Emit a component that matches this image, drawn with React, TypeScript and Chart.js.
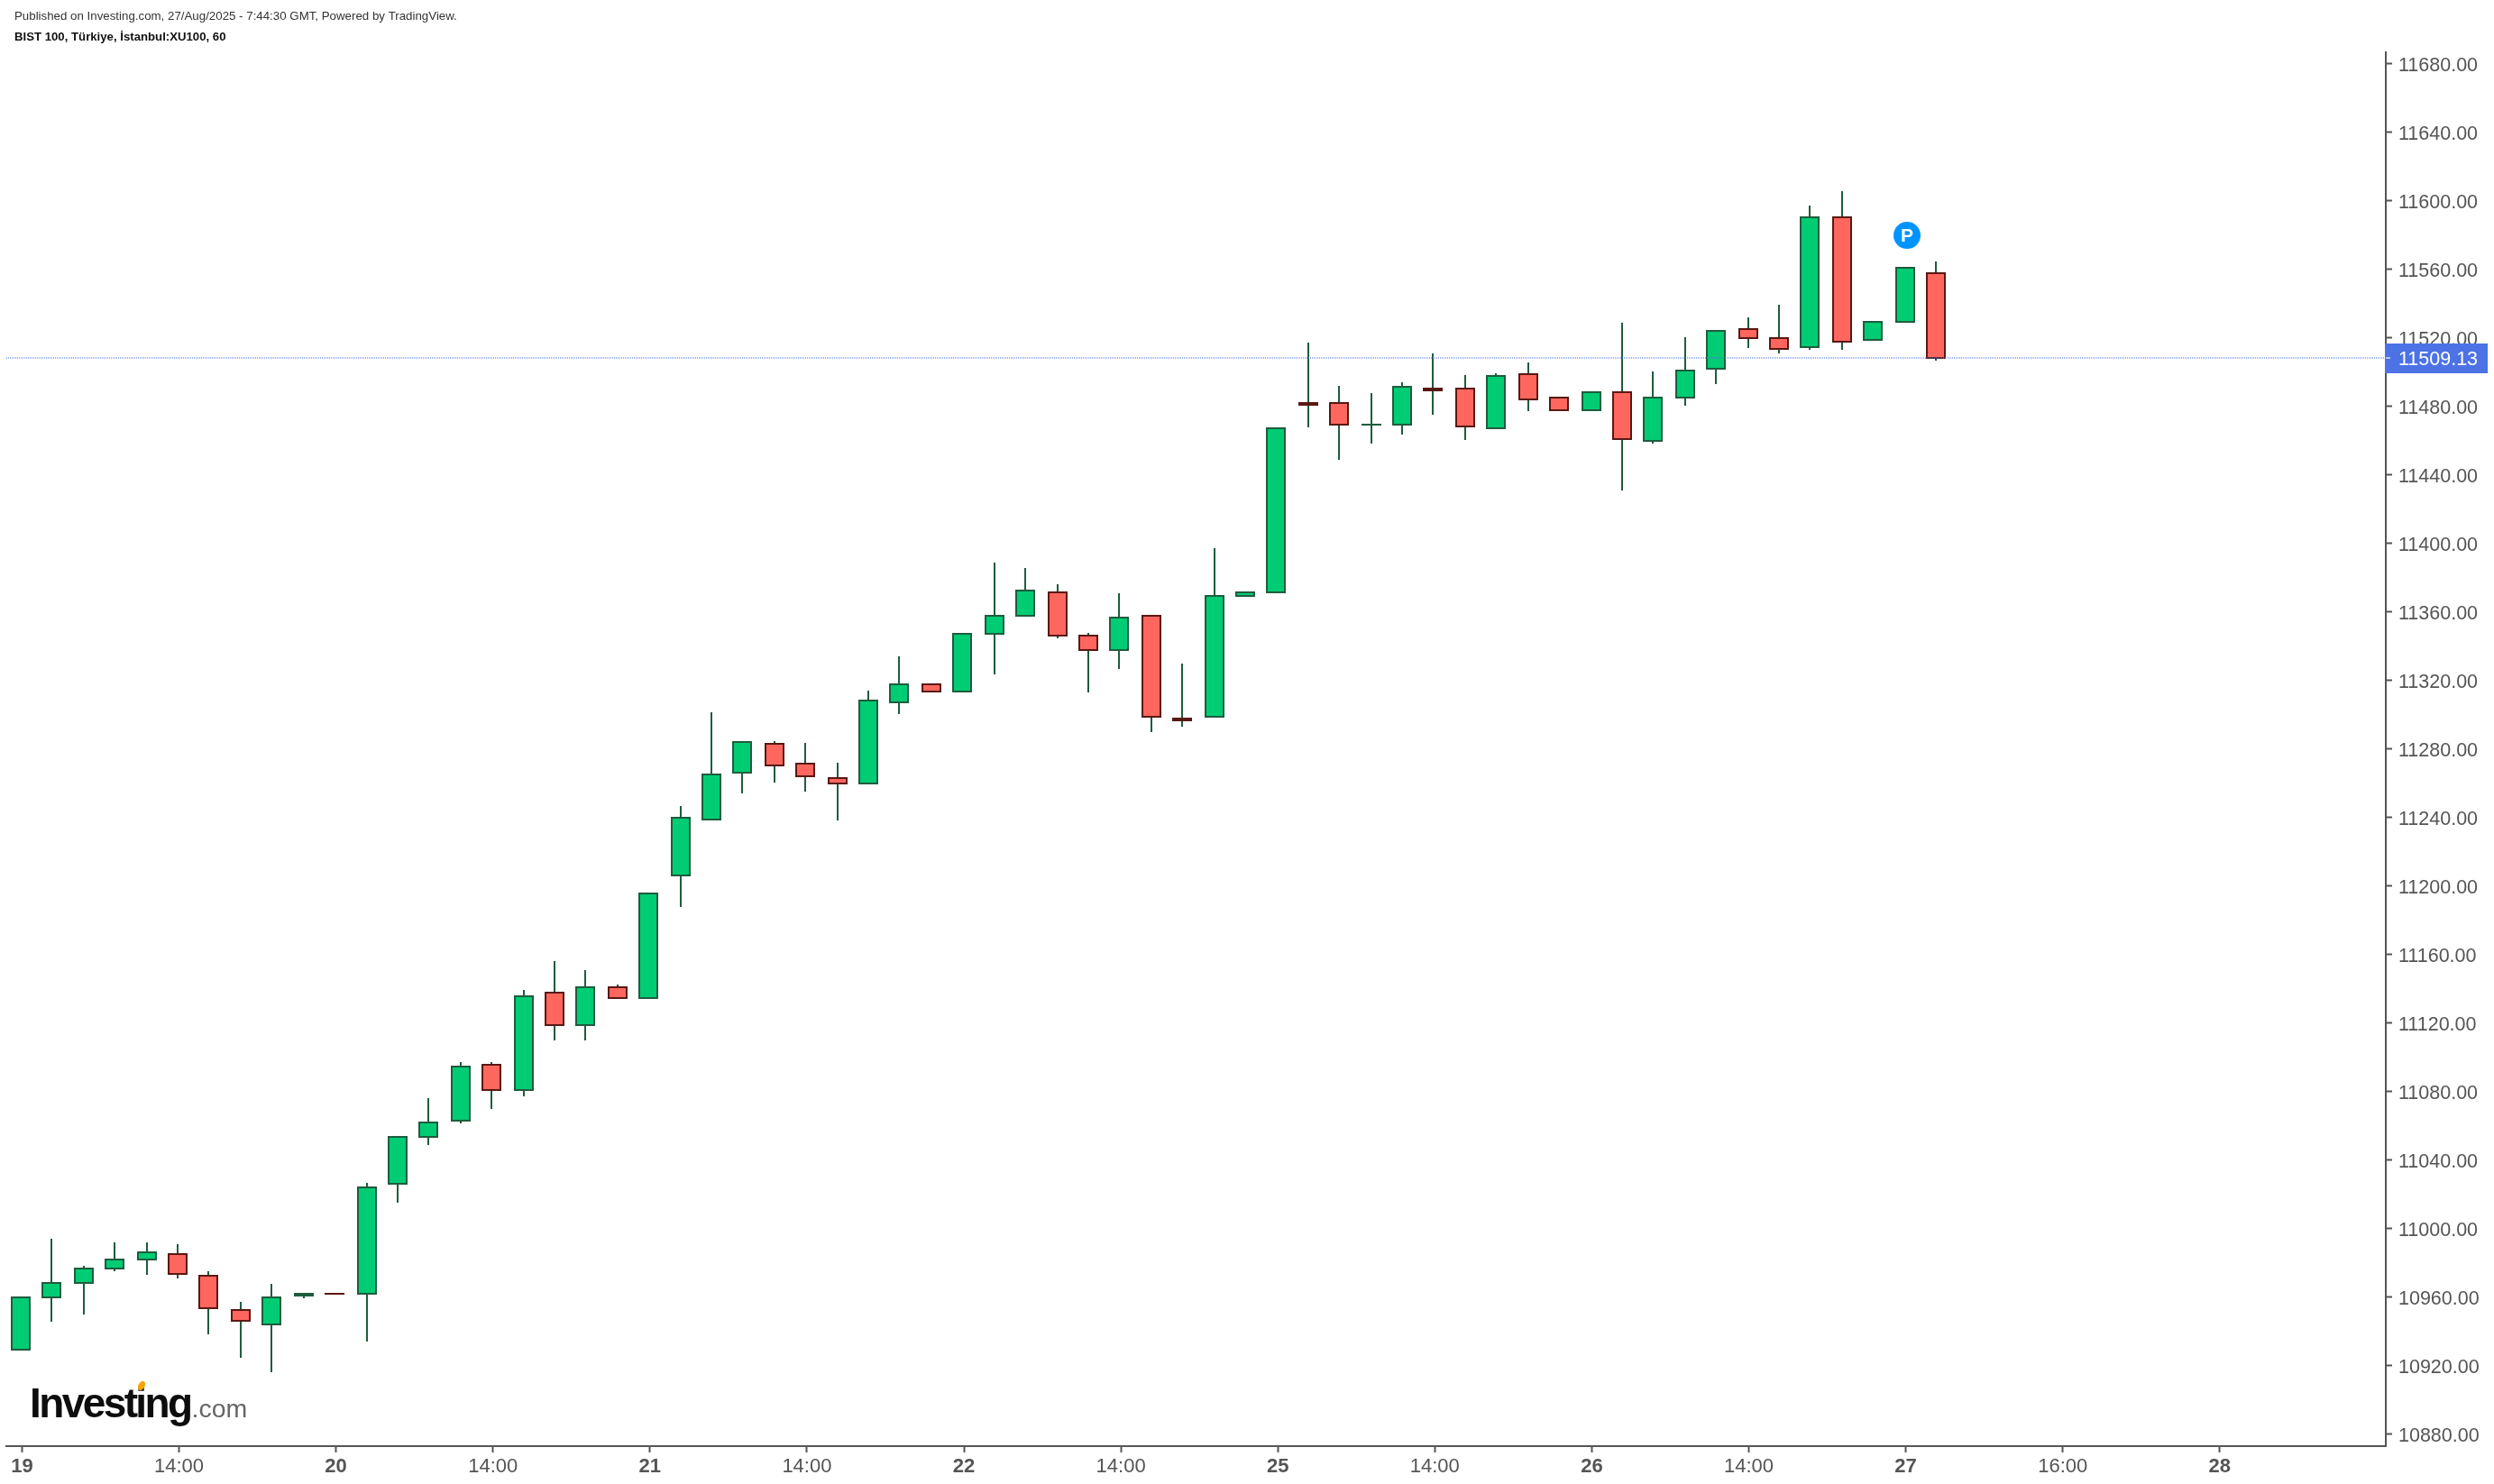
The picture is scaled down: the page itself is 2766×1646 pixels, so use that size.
import React, { useEffect, useRef } from "react";
import { Chart, registerables } from "chart.js";

Chart.register(...registerables);

const FONT = '"Liberation Sans", Arial, sans-serif';

const opens = [
  10928.8, 10959.3, 10967.7, 10976.2, 10981.4, 10985.6, 10973.0, 10953.0, 10943.5, 10960.4,
  10962.5, 10961.4, 11025.6, 11053.0, 11062.5, 11096.2, 11080.4, 11138.3, 11118.3, 11141.4,
  11134.1, 11205.6, 11238.3, 11265.6, 11283.5, 11272.0, 11263.5, 11259.3, 11306.7, 11318.3,
  11313.0, 11346.7, 11357.2, 11372.0, 11346.7, 11337.2, 11358.3, 11298.3, 11298.3, 11368.8,
  11370.9, 11482.5, 11482.5, 11468.8, 11468.8, 11490.9, 11490.9, 11466.7, 11499.3, 11485.6,
  11477.2, 11488.8, 11459.3, 11484.6, 11501.4, 11525.6, 11520.4, 11514.1, 11590.9, 11518.3,
  11528.8, 11558.3,
];
const closes = [
  10960.4, 10968.8, 10977.2, 10982.5, 10986.7, 10973.0, 10953.0, 10945.6, 10960.4, 10962.5,
  10961.4, 11024.6, 11054.1, 11062.5, 11095.1, 11080.4, 11136.2, 11118.3, 11141.4, 11134.1,
  11196.2, 11240.4, 11265.6, 11284.6, 11269.8, 11263.5, 11259.3, 11308.8, 11318.3, 11313.0,
  11347.7, 11358.3, 11373.0, 11345.6, 11337.2, 11357.2, 11298.3, 11296.2, 11369.8, 11372.0,
  11467.7, 11480.4, 11468.8, 11469.8, 11492.0, 11488.8, 11467.7, 11498.3, 11483.5, 11477.2,
  11488.8, 11460.4, 11485.6, 11501.4, 11524.6, 11519.3, 11513.0, 11590.9, 11517.2, 11529.8,
  11561.4, 11507.7,
];
const highs = [
  10960.4, 10994.1, 10978.3, 10992.0, 10992.0, 10990.9, 10975.1, 10957.2, 10967.7, 10962.5,
  10962.5, 11026.7, 11054.1, 11076.2, 11097.2, 11097.2, 11139.3, 11156.2, 11150.9, 11142.5,
  11196.2, 11246.7, 11301.4, 11284.6, 11284.6, 11283.5, 11272.0, 11314.1, 11334.1, 11318.3,
  11347.7, 11388.8, 11385.6, 11376.2, 11347.7, 11370.9, 11358.3, 11329.8, 11397.2, 11372.0,
  11467.7, 11517.2, 11492.0, 11487.7, 11494.1, 11510.9, 11498.3, 11499.3, 11505.6, 11485.6,
  11488.8, 11528.8, 11500.4, 11520.4, 11524.6, 11532.0, 11539.3, 11597.2, 11605.6, 11529.8,
  11561.4, 11564.6,
];
const lows = [
  10928.8, 10945.6, 10949.8, 10975.1, 10973.0, 10970.9, 10938.3, 10924.6, 10916.2, 10959.3,
  10961.4, 10934.1, 11015.1, 11048.8, 11061.4, 11069.8, 11077.2, 11109.8, 11109.8, 11134.1,
  11134.1, 11187.7, 11238.3, 11254.1, 11260.4, 11255.1, 11238.3, 11259.3, 11300.4, 11313.0,
  11313.0, 11323.5, 11357.2, 11344.6, 11313.0, 11326.7, 11289.8, 11293.0, 11298.3, 11368.8,
  11370.9, 11467.7, 11448.8, 11458.3, 11463.5, 11475.1, 11460.4, 11466.7, 11477.2, 11477.2,
  11477.2, 11430.9, 11458.3, 11480.4, 11493.0, 11514.1, 11510.9, 11513.0, 11513.0, 11518.3,
  11528.8, 11506.7,
];

const timeTickIndexes = [0, 5, 10, 15, 20, 25, 30, 35, 40, 45, 50, 55, 60, 65, 70];
const timeTickLabels = ["19", "14:00", "20", "14:00", "21", "14:00", "22", "14:00", "25", "14:00", "26", "14:00", "27", "16:00", "28"];
const priceTicks = [
  10880, 10920, 10960, 11000, 11040, 11080, 11120, 11160, 11200, 11240, 11280, 11320,
  11360, 11400, 11440, 11480, 11520, 11560, 11600, 11640, 11680,
];
const lastPrice = 11509.13;
const pineMarkerIndex = 60.08;
const pineMarkerPrice = 11579.8;
const publishedLine = "Published on Investing.com, 27/Aug/2025 - 7:44:30 GMT, Powered by TradingView.";
const symbolLine = "BIST 100, Türkiye, İstanbul:XU100, 60";

const X_MIN = -0.46;
const X_MAX = 75.33;
const Y_MIN = 10873;
const Y_MAX = 11686.68;
const AXIS = "#555555";
const UP = "#00cc74";
const DOWN = "#ff675e";
const UP_EDGE = "#1f5c3e";
const DOWN_EDGE = "#5a1814";
const TICK_NUDGE = 0.04;

const snapBars = {
  id: "snapBars",
  afterDatasetsUpdate(chart: any) {
    [0, 1].forEach((d) => {
      chart.getDatasetMeta(d).data.forEach((el: any) => {
        el.x = 2 * Math.round((el.x - 1) / 2) + 1;
        el.y = Math.round(el.y);
        el.base = Math.round(el.base);
      });
    });
    chart.getDatasetMeta(2).data.forEach((el: any) => {
      el.y = Math.round(el.y) + 2;
    });
  },
  beforeDraw(chart: any) {
    const nudge = (scale: any, dy: number) => {
      scale.getLabelItems().forEach((item: any) => {
        if (!item.__nudged) {
          item.__nudged = true;
          item.options.translation = [item.options.translation[0], item.options.translation[1] + dy];
        }
      });
    };
    nudge(chart.scales.y, 2.5);
  },
};

const overlay = {
  id: "overlay",
  afterDraw(chart: any) {
    const { ctx, scales } = chart;
    const y = scales.y.getPixelForValue(lastPrice);
    const mx = scales.x.getPixelForValue(pineMarkerIndex);
    const my = scales.y.getPixelForValue(pineMarkerPrice);
    ctx.save();
    ctx.textBaseline = "middle";

    ctx.textAlign = "left";
    ctx.fillStyle = "#333333";
    ctx.font = `13.3px ${FONT}`;
    ctx.fillText(publishedLine, 16, 18);
    ctx.fillStyle = "#111111";
    ctx.font = `bold 13.2px ${FONT}`;
    ctx.fillText(symbolLine, 16, 41);

    // last price tag
    ctx.fillStyle = "#4c72e6";
    ctx.fillRect(2645, Math.round(y) - 14, 114, 33);
    ctx.fillStyle = "#ffffff";
    ctx.font = `21.5px ${FONT}`;
    ctx.fillText(lastPrice.toFixed(2), 2660, Math.round(y) + 4);
    ctx.strokeStyle = "#b9c8f3";
    ctx.lineWidth = 2;
    ctx.beginPath();
    ctx.moveTo(2646, Math.round(y) + 2);
    ctx.lineTo(2651, Math.round(y) + 2);
    ctx.stroke();

    // pine marker letter
    ctx.fillStyle = "#ffffff";
    ctx.textAlign = "center";
    ctx.font = `bold 21px ${FONT}`;
    ctx.fillText("P", mx, my + 1);

    // logo
    ctx.textAlign = "left";
    ctx.textBaseline = "alphabetic";
    ctx.fillStyle = "#0d0d0d";
    ctx.font = `bold 46px ${FONT}`;
    (ctx as any).letterSpacing = "-2.6px";
    ctx.fillText("Investing", 33, 1572);
    const w = ctx.measureText("Investing").width;
    (ctx as any).letterSpacing = "0px";
    ctx.fillStyle = "#666666";
    ctx.font = `28.5px ${FONT}`;
    ctx.fillText(".com", 33 + w + 1, 1572);
    ctx.fillStyle = "#f5a300";
    ctx.beginPath();
    ctx.ellipse(157, 1537, 3.5, 5.5, 0.5, 0, Math.PI * 2);
    ctx.fill();
    ctx.restore();
  },
};

export default function App() {
  const ref = useRef<HTMLCanvasElement | null>(null);

  useEffect(() => {
    document.body.style.margin = "0";
    const idx = opens.map((_, i) => i);
    const isUp = (i: number) => closes[i] >= opens[i];
    const chart = new Chart(ref.current as HTMLCanvasElement, {
      type: "bar",
      data: {
        datasets: [
          {
            label: "Wick",
            order: 3,
            grouped: false,
            barThickness: 2,
            inflateAmount: 0,
            backgroundColor: UP_EDGE,
            data: idx.map((i) => ({ x: i, y: [lows[i], highs[i]] })),
          },
          {
            label: "Body",
            order: 2,
            grouped: false,
            barThickness: 22,
            inflateAmount: 0,
            borderWidth: 2,
            borderSkipped: false,
            backgroundColor: idx.map((i) => (isUp(i) ? UP : DOWN)),
            borderColor: idx.map((i) => (isUp(i) ? UP_EDGE : DOWN_EDGE)),
            data: idx.map((i) => ({ x: i, y: [opens[i], closes[i]] })),
          },
          {
            type: "line",
            label: "Last price",
            order: 1,
            borderColor: "rgba(76,114,230,0.55)",
            borderWidth: 2,
            borderDash: [1, 1],
            pointRadius: 0,
            data: [
              { x: X_MIN, y: lastPrice },
              { x: X_MAX, y: lastPrice },
            ],
          },
          {
            type: "scatter",
            label: "Pine",
            order: 0,
            pointRadius: 15,
            pointBorderWidth: 0,
            backgroundColor: "#0094ff",
            data: [{ x: pineMarkerIndex, y: pineMarkerPrice }],
          },
        ],
      } as any,
      plugins: [snapBars, overlay],
      options: {
        animation: false,
        responsive: false,
        devicePixelRatio: 1,
        layout: { autoPadding: false, padding: { left: 7, top: 58, right: 0, bottom: 0 } },
        plugins: { legend: { display: false }, tooltip: { enabled: false }, title: { display: false } },
        scales: {
          x: {
            type: "linear",
            position: "bottom",
            offset: false,
            min: X_MIN,
            max: X_MAX,
            afterBuildTicks: (s: any) => {
              s.ticks = timeTickIndexes.map((v) => ({ value: v + TICK_NUDGE }));
            },
            afterFit: (s: any) => {
              s.height = 42;
              s.paddingLeft = 0;
              s.paddingRight = 0;
            },
            grid: { offset: false, drawOnChartArea: false, drawTicks: true, tickLength: 7, tickWidth: 2, tickColor: AXIS },
            border: { display: true, color: AXIS, width: 2 },
            ticks: {
              autoSkip: false,
              maxRotation: 0,
              padding: 3,
              color: AXIS,
              font: (c: any) => {
                const lab = String(c.tick?.label ?? "");
                return { family: FONT, size: 22, weight: lab.includes(":") ? "normal" : "bold" };
              },
              callback: (v: any) => {
                const k = timeTickIndexes.indexOf(Math.round(Number(v)));
                return k >= 0 ? timeTickLabels[k] : "";
              },
            },
          },
          y: {
            type: "linear",
            position: "right",
            min: Y_MIN,
            max: Y_MAX,
            afterBuildTicks: (s: any) => {
              s.ticks = priceTicks.map((v) => ({ value: v }));
            },
            afterFit: (s: any) => {
              s.width = 120;
              s.paddingTop = 0;
              s.paddingBottom = 0;
            },
            grid: { drawOnChartArea: false, drawTicks: true, tickLength: 7, tickWidth: 2, tickColor: AXIS },
            border: { display: true, color: AXIS, width: 2 },
            ticks: {
              autoSkip: false,
              padding: 7,
              color: AXIS,
              font: { family: FONT, size: 21.5 },
              callback: (v: any) => Number(v).toFixed(2),
            },
          },
        },
      } as any,
    });
    return () => chart.destroy();
  }, []);

  return (
    <div style={{ position: "absolute", left: 0, top: 0, width: 2766, height: 1646, background: "#ffffff" }}>
      <canvas ref={ref} width={2766} height={1646} style={{ display: "block" }} />
    </div>
  );
}
